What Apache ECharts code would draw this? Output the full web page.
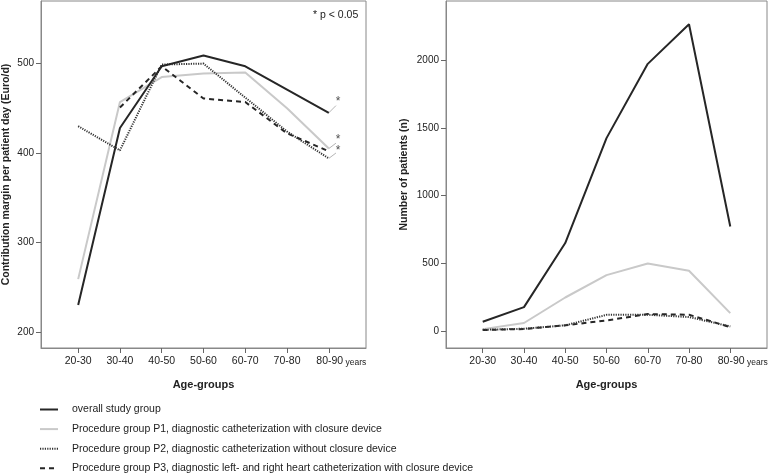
<!DOCTYPE html>
<html><head><meta charset="utf-8">
<script src="https://cdn.jsdelivr.net/npm/echarts@6/dist/echarts.min.js"></script>
<style>html,body{margin:0;padding:0;background:#fff}#c{width:778px;height:474px}</style>
</head><body><div id="c"></div>
<script>
const categories = ['20-30','30-40','40-50','50-60','60-70','70-80','80-90'];
const marginTicks = [200,300,400,500];
const patientTicks = [0,500,1000,1500,2000];
// Contribution margin per patient day (Euro/d)
const marginOverall = [230, 428, 497, 509, 497, 471, 445];
const marginP1 = [259, 457, 485, 489, 490, 450, 405];
const marginP2 = [430, 403, 499, 500, 462, 424, 394];
const marginP3 = [null, 451, 497, 461, 457, 422, 402];
// Number of patients (n)
const patientsOverall = [71, 179, 651, 1424, 1971, 2263, 773];
const patientsP1 = [17, 62, 250, 415, 500, 447, 135];
const patientsP2 = [12, 20, 45, 122, 123, 106, 37];
const patientsP3 = [10, 18, 45, 81, 128, 123, 32];
// significance stars (p < 0.05) at 80-90: [x, y] in data units
const starPoints = [[6.22, 457], [6.22, 415], [6.22, 403]];
const starLinks = [
  [[6, 445], [6.17, 453]],
  [[6, 405], [6.17, 411]],
  [[6, 394], [6.17, 400]]
];
const names = ['overall study group',
  'Procedure group P1, diagnostic catheterization with closure device',
  'Procedure group P2, diagnostic catheterization without closure device',
  'Procedure group P3, diagnostic left- and right heart catheterization with closure device'];

const FONT = 'Liberation Sans, Arial, sans-serif';
const styles = [
  {color:'#262626', width:2, type:'solid'},
  {color:'#c9c9c9', width:2, type:'solid'},
  {color:'#333333', width:2, type:[1.2,1.2]},
  {color:'#262626', width:2, type:[5,4]}
];
function xAxis(gi){
  return {type:'value', gridIndex:gi, min:-0.89, max:6.89,
    axisLine:{show:true, onZero:false, lineStyle:{color:'#888', width:1}},
    splitLine:{show:false},
    axisTick:{show:true, length:5, customValues:[0,1,2,3,4,5,6], lineStyle:{color:'#666'}},
    axisLabel:{customValues:[0,1,2,3,4,5,6], color:'#222', fontFamily:FONT, fontSize:10.5, margin:8,
      formatter:v=>{const i=Math.round(v); return i===6 ? '{a|'+categories[i]+'}{y| years}' : categories[i];},
      rich:{a:{fontSize:10.5, fontFamily:FONT, color:'#222', padding:[0,0,0,25]},
            y:{fontSize:8.5, fontFamily:FONT, color:'#222', padding:[2,0,0,0]}}},
    name:'Age-groups', nameLocation:'middle', nameGap:31,
    nameTextStyle:{fontFamily:FONT, fontSize:11, fontWeight:'bold', color:'#222'}
  };
}
function yAxis(gi, min, max, ticks, name, gap){
  return {type:'value', gridIndex:gi, min:min, max:max,
    axisLine:{show:true, onZero:false, lineStyle:{color:'#888', width:1}},
    splitLine:{show:false},
    axisTick:{show:true, length:5, customValues:ticks, lineStyle:{color:'#666'}},
    axisLabel:{customValues:ticks, color:'#222', fontFamily:FONT, fontSize:10, margin:7,
      formatter:v=>String(v)},
    name:name, nameLocation:'middle', nameGap:gap, nameRotate:90,
    nameTextStyle:{fontFamily:FONT, fontSize:10.5, fontWeight:'bold', color:'#222'}
  };
}
function mk(arr){ return arr.map((v,i)=>[i,v]); }
const series = [];
const leftData = [marginOverall, marginP1, marginP2, marginP3];
const rightData = [patientsOverall, patientsP1, patientsP2, patientsP3];
const order = [1,3,2,0];
order.forEach(k=>{
  series.push({name:names[k], type:'line', xAxisIndex:0, yAxisIndex:0, data:mk(leftData[k]),
    symbol:'none', lineStyle:styles[k], itemStyle:{color:styles[k].color}, z: k===0?5:3});
  series.push({name:names[k], type:'line', xAxisIndex:1, yAxisIndex:1, data:mk(rightData[k]),
    symbol:'none', lineStyle:styles[k], itemStyle:{color:styles[k].color}, z: k===0?5:3});
});
starLinks.forEach(l=>{
  series.push({type:'line', xAxisIndex:0, yAxisIndex:0, data:l, symbol:'none',
    lineStyle:{color:'#b5b5b5', width:1}, silent:true});
});
series.push({type:'scatter', xAxisIndex:0, yAxisIndex:0, data:starPoints, symbolSize:0,
  label:{show:true, formatter:'*', position:'inside', color:'#222', fontSize:12, fontFamily:FONT}});

const chart = echarts.init(document.getElementById('c'), null, {renderer:'canvas'});
chart.setOption({
  animation:false,
  backgroundColor:'#fff',
  grid:[
    {left:40, top:1, width:326, height:347, show:true, borderColor:'#888', borderWidth:1},
    {left:446, top:1, width:321, height:347, show:true, borderColor:'#888', borderWidth:1}
  ],
  xAxis:[xAxis(0), xAxis(1)],
  yAxis:[
    yAxis(0, 182, 570, marginTicks, 'Contribution margin per patient day (Euro/d)', 29),
    yAxis(1, -122, 2434, patientTicks, 'Number of patients (n)', 36)
  ],
  legend:{data:names, orient:'vertical', left:34, top:404, height:90, padding:[0,5],
    itemWidth:18, itemHeight:10, itemGap:8.6,
    itemStyle:{opacity:0},
    textStyle:{fontFamily:FONT, fontSize:10.5, color:'#222', padding:[0,0,0,9]}},
  graphic:[{type:'text', left:313, top:10,
    style:{text:'* p < 0.05', fontFamily:FONT, fontSize:10.5, fill:'#222'}}],
  series:series
});
</script></body></html>
